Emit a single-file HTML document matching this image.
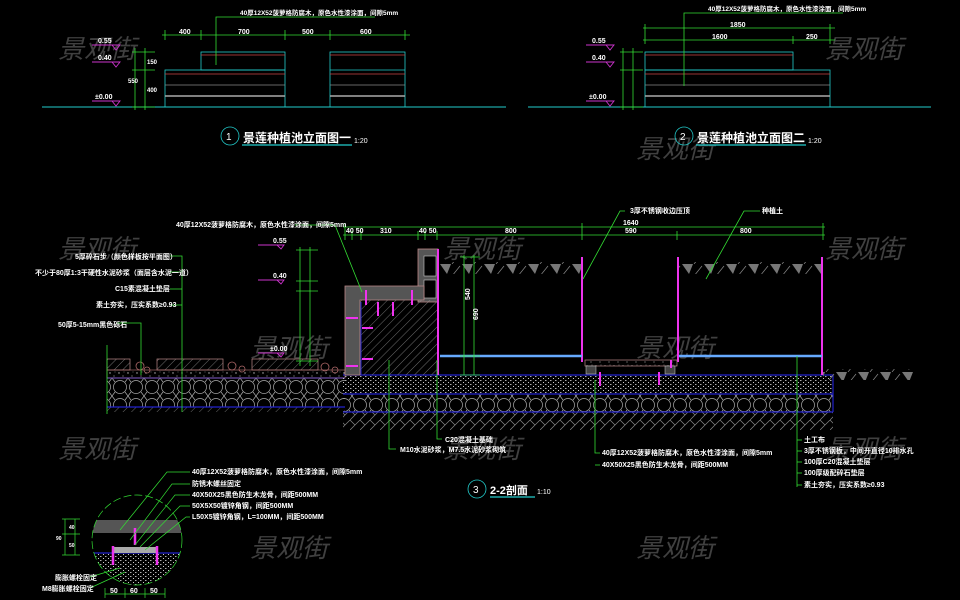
<!DOCTYPE html>
<html><head><meta charset="utf-8"><style>
html,body{margin:0;padding:0;background:#000;}
svg{display:block}
text{font-family:"Liberation Sans","Noto Sans CJK SC",sans-serif;}
.t{fill:#fff;font-size:7px;font-weight:bold}
.w{fill:#5a5a5a;font-size:26px;font-style:italic;font-family:"Liberation Sans","Noto Sans CJK SC",sans-serif;opacity:.85}
</style></head><body>
<svg width="960" height="600" viewBox="0 0 960 600" xmlns="http://www.w3.org/2000/svg">
<defs>
<pattern id="h" width="6" height="6" patternUnits="userSpaceOnUse" patternTransform="rotate(45)"><line x1="0" y1="0" x2="0" y2="6" stroke="#9a9a9a" stroke-width="0.7"/></pattern>
<pattern id="hs" width="10" height="10" patternUnits="userSpaceOnUse"><path d="M0 10 L10 0 M0 0 L5 5" stroke="#888" stroke-width="0.7"/></pattern>
<pattern id="cob" width="16" height="18" patternUnits="userSpaceOnUse"><circle cx="8" cy="9" r="6.5" fill="none" stroke="#aaa" stroke-width="0.7"/><path d="M0 0 L3 4 M16 0 L13 4 M0 18 L3 14 M16 18 L13 14" stroke="#aaa" stroke-width="0.7"/></pattern>
<pattern id="grav" width="9" height="7" patternUnits="userSpaceOnUse"><circle cx="2" cy="2" r="0.7" fill="#bbb"/><circle cx="6" cy="5" r="0.6" fill="#999"/><circle cx="7" cy="1" r="0.4" fill="#ccc"/></pattern>
<pattern id="soil" width="22" height="12" patternUnits="userSpaceOnUse"><path d="M0 0 L11 0 L7 10 Z" fill="#777"/><path d="M12 12 L20 2" stroke="#888" stroke-width="0.7"/></pattern>
<pattern id="dots" width="5" height="4" patternUnits="userSpaceOnUse"><rect x="0" y="0" width="1.5" height="1" fill="#aaa"/><rect x="3" y="2" width="1" height="1" fill="#ccc"/></pattern>
</defs>

<g class="w">
<text x="58" y="58" class="w">景观街</text><text x="825" y="58" class="w">景观街</text>
<text x="636" y="158" class="w">景观街</text>
<text x="58" y="258" class="w">景观街</text><text x="443" y="258" class="w">景观街</text><text x="825" y="258" class="w">景观街</text>
<text x="250" y="357" class="w">景观街</text><text x="636" y="357" class="w">景观街</text>
<text x="58" y="458" class="w">景观街</text><text x="443" y="458" class="w">景观街</text><text x="825" y="458" class="w">景观街</text>
<text x="250" y="557" class="w">景观街</text><text x="636" y="557" class="w">景观街</text>
</g>

<!-- ===== Elevation 1 ===== -->
<line x1="42" y1="107" x2="480" y2="107" stroke="#2cc" stroke-width="1"/>
<g fill="none" stroke="#2cc" stroke-width="0.8">
<rect x="165" y="70" width="120" height="37"/><rect x="201" y="52" width="84" height="18"/>
<rect x="330" y="52" width="75" height="55"/><line x1="330" y1="70" x2="405" y2="70"/>
</g>
<g stroke-width="0.8">
<line x1="165" y1="74" x2="285" y2="74" stroke="#c44"/><line x1="165" y1="85" x2="285" y2="85" stroke="#888"/><line x1="165" y1="96" x2="285" y2="96" stroke="#aaa" stroke-width="1.5"/>
<line x1="201" y1="55" x2="285" y2="55" stroke="#c44"/>
<line x1="330" y1="55" x2="405" y2="55" stroke="#c44"/><line x1="330" y1="74" x2="405" y2="74" stroke="#c44"/><line x1="330" y1="85" x2="405" y2="85" stroke="#888"/><line x1="330" y1="96" x2="405" y2="96" stroke="#aaa" stroke-width="1.5"/>
</g>
<g stroke="#3d3" stroke-width="0.8" fill="none">
<line x1="162" y1="35" x2="410" y2="35"/>
<line x1="165" y1="30" x2="165" y2="40"/><line x1="201" y1="30" x2="201" y2="40"/><line x1="285" y1="30" x2="285" y2="40"/><line x1="330" y1="30" x2="330" y2="40"/><line x1="405" y1="30" x2="405" y2="40"/>
<polyline points="216,65 216,17 375,17"/>
<line x1="135" y1="48" x2="135" y2="110"/><line x1="145" y1="48" x2="145" y2="110"/>
<line x1="132" y1="52" x2="155" y2="52"/><line x1="132" y1="70" x2="155" y2="70"/><line x1="132" y1="107" x2="155" y2="107"/>
</g>
<g class="t"><text x="179" y="34">400</text><text x="238" y="34">700</text><text x="302" y="34">500</text><text x="360" y="34">600</text>
<text x="240" y="15" font-size="6.5">40厚12X52菠萝格防腐木，原色水性漆涂面，间隙5mm</text>
<text x="147" y="64" font-size="6">150</text><text x="147" y="92" font-size="6">400</text><text x="128" y="83" font-size="6">550</text></g>
<g stroke="#c3c" stroke-width="0.9" fill="none">
<polyline points="92,45 120,45 116,50 112,45"/><polyline points="92,62 120,62 116,67 112,62"/><polyline points="92,101 120,101 116,106 112,101"/></g>
<g class="t" fill="#fff" font-size="6"><text x="98" y="43">0.55</text><text x="98" y="60">0.40</text><text x="95" y="99">±0.00</text></g>
<circle cx="230" cy="136" r="9" fill="none" stroke="#2cc" stroke-width="0.8"/>
<text x="226" y="140" fill="#fff" font-size="10">1</text>
<text x="243" y="142" fill="#fff" font-size="12" font-weight="bold">景莲种植池立面图一</text>
<line x1="242" y1="145" x2="352" y2="145" stroke="#2cc" stroke-width="1.3"/>
<text x="354" y="143" fill="#fff" font-size="7">1:20</text>

<!-- ===== Elevation 2 ===== -->
<line x1="480" y1="107" x2="506" y2="107" stroke="#2cc"/><line x1="528" y1="107" x2="931" y2="107" stroke="#2cc"/>
<g fill="none" stroke="#2cc" stroke-width="0.8"><rect x="645" y="70" width="185" height="37"/><rect x="645" y="52" width="148" height="18"/></g>
<g stroke-width="0.8">
<line x1="645" y1="55" x2="793" y2="55" stroke="#c44"/><line x1="645" y1="74" x2="830" y2="74" stroke="#c44"/><line x1="645" y1="85" x2="830" y2="85" stroke="#888"/><line x1="645" y1="96" x2="830" y2="96" stroke="#aaa" stroke-width="1.5"/></g>
<g stroke="#3d3" stroke-width="0.8" fill="none">
<line x1="643" y1="28" x2="835" y2="28"/><line x1="643" y1="40" x2="835" y2="40"/>
<line x1="645" y1="24" x2="645" y2="44"/><line x1="830" y1="24" x2="830" y2="44"/><line x1="793" y1="36" x2="793" y2="44"/>
<polyline points="684,86 684,13 843,13"/>
<line x1="623" y1="48" x2="623" y2="110"/><line x1="633" y1="48" x2="633" y2="110"/>
<line x1="620" y1="52" x2="643" y2="52"/><line x1="620" y1="70" x2="643" y2="70"/><line x1="620" y1="107" x2="643" y2="107"/>
</g>
<g class="t"><text x="730" y="27">1850</text><text x="712" y="39">1600</text><text x="806" y="39">250</text>
<text x="708" y="11" font-size="6.5">40厚12X52菠萝格防腐木，原色水性漆涂面，间隙5mm</text></g>
<g stroke="#c3c" stroke-width="0.9" fill="none">
<polyline points="586,45 614,45 610,50 606,45"/><polyline points="586,62 614,62 610,67 606,62"/><polyline points="586,101 614,101 610,106 606,101"/></g>
<g class="t" font-size="6"><text x="592" y="43">0.55</text><text x="592" y="60">0.40</text><text x="589" y="99">±0.00</text></g>
<circle cx="684" cy="136" r="9" fill="none" stroke="#2cc" stroke-width="0.8"/>
<text x="680" y="140" fill="#fff" font-size="10">2</text>
<text x="697" y="142" fill="#fff" font-size="12" font-weight="bold">景莲种植池立面图二</text>
<line x1="696" y1="145" x2="806" y2="145" stroke="#2cc" stroke-width="1.3"/>
<text x="808" y="143" fill="#fff" font-size="7">1:20</text>

<!-- ===== Section 2-2 ===== -->
<rect x="107" y="378" width="238" height="29" fill="url(#cob)"/>
<rect x="107" y="407" width="238" height="5" fill="url(#h)"/>
<line x1="107" y1="378" x2="345" y2="378" stroke="#22c" stroke-width="1.2"/><line x1="107" y1="407" x2="345" y2="407" stroke="#22c" stroke-width="1.2"/>
<g fill="url(#h)" stroke="#b88" stroke-width="0.7"><rect x="107" y="359" width="23" height="11"/><rect x="157" y="359" width="66" height="11"/><rect x="252" y="359" width="66" height="11"/></g>
<rect x="107" y="370" width="238" height="8" fill="url(#grav)" stroke="#b77" stroke-width="0.6"/>
<g fill="none" stroke="#a66" stroke-width="0.8"><circle cx="140" cy="366" r="4"/><circle cx="147" cy="370" r="3"/><circle cx="232" cy="366" r="4"/><circle cx="242" cy="369" r="3"/><circle cx="325" cy="367" r="4"/><circle cx="335" cy="370" r="3"/></g>

<rect x="343" y="375" width="490" height="19" fill="url(#dots)"/>
<rect x="343" y="394" width="490" height="18" fill="url(#cob)"/>
<rect x="343" y="412" width="490" height="18" fill="url(#hs)"/>
<g stroke="#22c" stroke-width="1.2" fill="none"><line x1="343" y1="375" x2="833" y2="375"/><line x1="343" y1="394" x2="833" y2="394"/><line x1="343" y1="412" x2="833" y2="412"/><line x1="833" y1="375" x2="833" y2="412"/></g>
<rect x="823" y="369" width="90" height="11" fill="url(#soil)"/>

<rect x="418" y="249" width="20" height="53" fill="#555" stroke="#b88" stroke-width="0.8"/>
<rect x="424" y="256" width="12" height="20" fill="#000" stroke="#ccc" stroke-width="0.6"/>
<rect x="424" y="280" width="12" height="18" fill="#000" stroke="#ccc" stroke-width="0.6"/>
<path d="M345 286 H424 V300 H360 V375 H345 Z" fill="#555" stroke="#b88" stroke-width="0.8"/>
<rect x="360" y="300" width="78" height="75" fill="url(#h)"/>
<line x1="361" y1="302" x2="361" y2="375" stroke="#22c"/>
<g stroke="#e3e" stroke-width="2"><line x1="366" y1="290" x2="366" y2="305"/><line x1="412" y1="290" x2="412" y2="305"/><line x1="378" y1="302" x2="378" y2="316"/><line x1="393" y1="302" x2="393" y2="316"/><line x1="346" y1="318" x2="358" y2="318"/><line x1="362" y1="328" x2="373" y2="328"/><line x1="362" y1="359" x2="373" y2="359"/><line x1="346" y1="366" x2="358" y2="366"/></g>

<rect x="440" y="262" width="142" height="12" fill="url(#soil)"/>
<rect x="679" y="262" width="143" height="12" fill="url(#soil)"/>
<g stroke="#e3e" stroke-width="2"><line x1="438" y1="249" x2="438" y2="375"/><line x1="582" y1="257" x2="582" y2="362"/><line x1="678" y1="257" x2="678" y2="362"/><line x1="822" y1="257" x2="822" y2="375"/></g>
<line x1="440" y1="356" x2="582" y2="356" stroke="#6af" stroke-width="2.5"/>
<line x1="679" y1="356" x2="822" y2="356" stroke="#6af" stroke-width="2.5"/>
<rect x="585" y="360" width="92" height="6" fill="url(#grav)" stroke="#b88" stroke-width="0.7"/>
<rect x="586" y="366" width="10" height="8" fill="#444" stroke="#ccc" stroke-width="0.5"/><rect x="665" y="366" width="10" height="8" fill="#444" stroke="#ccc" stroke-width="0.5"/>
<g stroke="#e3e" stroke-width="2"><line x1="600" y1="372" x2="600" y2="386"/><line x1="659" y1="372" x2="659" y2="385"/><line x1="671" y1="360" x2="671" y2="368"/></g>

<g stroke="#3d3" stroke-width="0.8" fill="none">
<line x1="343" y1="227" x2="825" y2="227"/><line x1="343" y1="235" x2="825" y2="235"/>
<line x1="345" y1="223" x2="345" y2="240"/><line x1="352" y1="231" x2="352" y2="240"/><line x1="361" y1="231" x2="361" y2="240"/><line x1="418" y1="231" x2="418" y2="240"/><line x1="425" y1="231" x2="425" y2="240"/><line x1="437" y1="231" x2="437" y2="240"/><line x1="582" y1="223" x2="582" y2="240"/><line x1="677" y1="231" x2="677" y2="240"/><line x1="823" y1="223" x2="823" y2="240"/>
<line x1="464" y1="255" x2="464" y2="375"/><line x1="474" y1="255" x2="474" y2="375"/>
<line x1="460" y1="257" x2="480" y2="257"/><line x1="460" y1="356" x2="480" y2="356"/><line x1="460" y1="375" x2="480" y2="375"/>
<polyline points="295,225 335,225 362,292"/>
<polyline points="583,279 620,211 625,211"/><polyline points="706,279 744,211 760,211"/>
<line x1="310" y1="247" x2="310" y2="366"/><line x1="300" y1="247" x2="300" y2="366"/>
<line x1="296" y1="250" x2="318" y2="250"/><line x1="296" y1="281" x2="318" y2="281"/><line x1="296" y1="291" x2="318" y2="291"/><line x1="296" y1="361" x2="318" y2="361"/>
<polyline points="170,256 182,256 182,412"/><polyline points="170,272 182,272"/><polyline points="170,289 182,289"/><polyline points="170,305 182,305"/>
<polyline points="117,323 141,323 141,375"/>
<line x1="107" y1="345" x2="107" y2="414"/>
<polyline points="389,360 389,449 396,449"/><polyline points="437,360 437,439 442,439"/>
<polyline points="595,380 595,453 600,453"/><polyline points="595,465 600,465"/>
<polyline points="797,356 797,487"/><line x1="797" y1="440" x2="802" y2="440"/><line x1="797" y1="451" x2="802" y2="451"/><line x1="797" y1="462" x2="802" y2="462"/><line x1="797" y1="473" x2="802" y2="473"/><line x1="797" y1="485" x2="802" y2="485"/>
</g>
<g class="t" font-size="6">
<text x="346" y="233">40 50</text><text x="380" y="233">310</text><text x="419" y="233">40 50</text><text x="505" y="233">800</text><text x="623" y="225">1640</text><text x="625" y="233">590</text><text x="740" y="233">800</text>
<text x="630" y="213">3厚不锈钢收边压顶</text><text x="762" y="213">种植土</text>
<text x="176" y="227">40厚12X52菠萝格防腐木，原色水性漆涂面，间隙5mm</text>
<text x="75" y="259">5厚碎石步（颜色样板按平面图）</text>
<text x="35" y="275">不少于80厚1:3干硬性水泥砂浆（面层含水泥一道）</text>
<text x="115" y="291">C15素混凝土垫层</text>
<text x="96" y="307">素土夯实，压实系数≥0.93</text>
<text x="58" y="327">50厚5-15mm黑色砾石</text>
<text x="470" y="300" transform="rotate(-90 470 300)">540</text><text x="478" y="320" transform="rotate(-90 478 320)">690</text>
<text x="273" y="243">0.55</text><text x="273" y="278">0.40</text><text x="270" y="351">±0.00</text>
<text x="400" y="452">M10水泥砂浆，M7.5水泥砂浆砌筑</text><text x="445" y="442">C20混凝土基础</text>
<text x="602" y="455">40厚12X52菠萝格防腐木，原色水性漆涂面，间隙5mm</text><text x="602" y="467">40X50X25黑色防生木龙骨，间距500MM</text>
<text x="804" y="442">土工布</text><text x="804" y="453">3厚不锈钢板，中间开直径10排水孔</text><text x="804" y="464">100厚C20混凝土垫层</text><text x="804" y="475">100厚级配碎石垫层</text><text x="804" y="487">素土夯实，压实系数≥0.93</text>
</g>
<g stroke="#c3c" stroke-width="0.9" fill="none"><polyline points="258,245 284,245 281,249 277,245"/><polyline points="258,280 284,280 281,284 277,280"/><polyline points="258,353 284,353 281,357 277,353"/></g>
<circle cx="477" cy="489" r="9" fill="none" stroke="#2cc" stroke-width="0.8"/>
<text x="473" y="493" fill="#fff" font-size="10">3</text>
<text x="490" y="494" fill="#fff" font-size="11" font-weight="bold">2-2剖面</text>
<line x1="490" y1="497" x2="535" y2="497" stroke="#2cc" stroke-width="1.3"/>
<text x="537" y="494" fill="#fff" font-size="7">1:10</text>

<clipPath id="cc"><circle cx="137" cy="540" r="45"/></clipPath>
<g clip-path="url(#cc)">
<rect x="90" y="520" width="95" height="13" fill="#555"/>
<rect x="90" y="533" width="95" height="12" fill="#000"/>
<rect x="90" y="553" width="95" height="40" fill="url(#dots)"/>
<line x1="90" y1="553" x2="185" y2="553" stroke="#22c" stroke-width="1.2"/>
<rect x="113" y="547" width="44" height="6" fill="#aaa"/>
</g>
<circle cx="137" cy="540" r="45" fill="none" stroke="#3d3" stroke-width="0.7" stroke-dasharray="8 3"/>
<g stroke="#e3e" stroke-width="2.5"><line x1="113" y1="546" x2="113" y2="565"/><line x1="157" y1="546" x2="157" y2="565"/><line x1="135" y1="528" x2="135" y2="545"/></g>
<g stroke="#3d3" stroke-width="0.7" fill="none">
<polyline points="120,530 167,472 190,472"/><polyline points="130,540 172,484 190,484"/><polyline points="135,545 175,495 190,495"/><polyline points="140,547 180,506 190,506"/><polyline points="145,550 186,517 190,517"/>
<polyline points="90,577 120,568"/><polyline points="90,588 125,572"/>
<line x1="65" y1="519" x2="65" y2="555"/><line x1="75" y1="519" x2="75" y2="555"/><line x1="62" y1="519" x2="80" y2="519"/><line x1="62" y1="534" x2="80" y2="534"/><line x1="62" y1="555" x2="80" y2="555"/>
<line x1="105" y1="594" x2="165" y2="594"/><line x1="105" y1="588" x2="105" y2="598"/><line x1="125" y1="588" x2="125" y2="598"/><line x1="145" y1="588" x2="145" y2="598"/><line x1="165" y1="588" x2="165" y2="598"/>
</g>
<g class="t" font-size="6">
<text x="192" y="474">40厚12X52菠萝格防腐木，原色水性漆涂面，间隙5mm</text><text x="192" y="486">防锈木螺丝固定</text><text x="192" y="497">40X50X25黑色防生木龙骨，间距500MM</text><text x="192" y="508">50X5X50镀锌角钢，间距500MM</text><text x="192" y="519">L50X5镀锌角钢，L=100MM，间距500MM</text>
<text x="55" y="580">膨胀螺栓固定</text><text x="42" y="591">M8膨胀螺栓固定</text>
<text x="110" y="593">50</text><text x="130" y="593">60</text><text x="150" y="593">50</text>
<text x="69" y="529" font-size="5">40</text><text x="69" y="547" font-size="5">50</text><text x="56" y="540" font-size="5">90</text>
</g>
</svg>
</body></html>
